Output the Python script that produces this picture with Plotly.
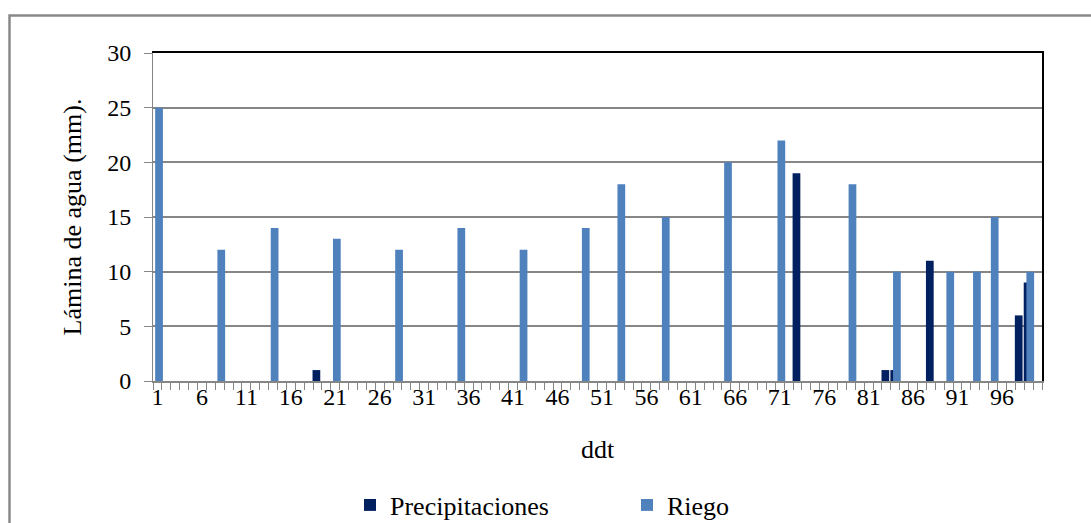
import plotly.graph_objects as go

# Daily water depth (mm) by day after transplant (ddt)
days_total = 100
riego_days = [1, 8, 14, 21, 28, 35, 42, 49, 53, 58, 65, 71, 79, 84, 90, 93, 95, 99]
riego_mm = [25, 12, 14, 13, 12, 14, 12, 14, 18, 15, 20, 22, 18, 10, 10, 10, 15, 10]
precip_days = [19, 73, 83, 84, 88, 98, 99]
precip_mm = [1, 19, 1, 1, 11, 6, 9]
tick_days = list(range(1, days_total + 1, 5))

W, H = 1091, 523
ML, MR, MT, MB = 153, 49, 53, 142
PW, PH = W - ML - MR, H - MT - MB

FONT = "Liberation Serif"
GRID = "#868686"
DARK = "#002060"
LIGHT = "#4f81bd"
BAR_W = 0.87

fig = go.Figure()
fig.add_trace(go.Bar(
    x=precip_days, y=precip_mm, name="Precipitaciones",
    marker=dict(color=DARK, line=dict(width=0)),
    width=BAR_W, offset=-0.12 - BAR_W / 2,
))
fig.add_trace(go.Bar(
    x=riego_days, y=riego_mm, name="Riego",
    marker=dict(color=LIGHT, line=dict(width=0)),
    width=BAR_W, offset=0.18 - BAR_W / 2,
))
# empty traces so the helper axes (boundary ticks, frame) get drawn
for xa, ya in (("x2", "y"), ("x3", "y"), ("x", "y2")):
    fig.add_trace(go.Scatter(x=[None], y=[None], xaxis=xa, yaxis=ya,
                             showlegend=False, hoverinfo="skip"))


def px_x(p):
    return (p - ML) / PW


def px_y(p):
    return (H - MB - p) / PH


xr = [0.5, days_total + 0.5]
fig.update_layout(
    width=W, height=H,
    margin=dict(l=ML, r=MR, t=MT, b=MB, pad=0, autoexpand=False),
    paper_bgcolor="white", plot_bgcolor="white",
    barmode="overlay",
    font=dict(family=FONT, size=24, color="black"),
    xaxis=dict(
        range=xr, tickmode="array", tickvals=tick_days,
        ticktext=[str(d) for d in tick_days],
        ticks="", ticklen=0, showgrid=False, zeroline=False,
        showline=True, linecolor=GRID, linewidth=2,
        ticklabelstandoff=-7,
        tickfont=dict(family=FONT, size=24),
        title=dict(text="ddt", font=dict(family=FONT, size=26), standoff=31),
        automargin=False,
    ),
    # category boundary tick marks
    xaxis2=dict(
        overlaying="x", anchor="y", side="bottom", range=xr,
        tickmode="array", tickvals=[d + 0.5 for d in range(0, days_total + 1)],
        ticks="outside", ticklen=8, tickwidth=1, tickcolor=GRID,
        showticklabels=False, showgrid=False, zeroline=False, showline=False,
    ),
    # plot area frame, top edge
    xaxis3=dict(
        overlaying="x", anchor="y", side="top", range=xr,
        showline=True, linecolor="black", linewidth=1.5,
        ticks="", showticklabels=False, showgrid=False, zeroline=False,
    ),
    yaxis=dict(
        range=[0, 30], dtick=5, tick0=0,
        showgrid=True, gridcolor=GRID, gridwidth=1.5,
        zeroline=False, showline=True, linecolor=GRID, linewidth=1,
        ticks="outside", ticklen=8, tickcolor=GRID, tickwidth=1,
        ticklabelstandoff=8,
        tickfont=dict(family=FONT, size=24),
        title=dict(text="Lámina de agua (mm).", font=dict(family=FONT, size=26), standoff=18),
        automargin=False,
    ),
    # plot area frame, right edge
    yaxis2=dict(
        overlaying="y", anchor="x", side="right", range=[0, 30],
        showline=True, linecolor="black", linewidth=1.5,
        ticks="", showticklabels=False, showgrid=False, zeroline=False,
    ),
    legend=dict(
        orientation="h", x=px_x(350), xanchor="left", y=px_y(505), yanchor="middle",
        font=dict(family=FONT, size=26), entrywidth=232, entrywidthmode="pixels",
        bgcolor="rgba(0,0,0,0)", traceorder="normal",
    ),
    showlegend=True,
    shapes=[dict(
        type="rect", xref="paper", yref="paper",
        x0=px_x(9.5), x1=px_x(W + 20), y0=px_y(H + 20), y1=px_y(15.5),
        line=dict(color="#898989", width=2.5), fillcolor="rgba(0,0,0,0)",
        layer="below",
    )],
)

fig.write_html("out.html")
